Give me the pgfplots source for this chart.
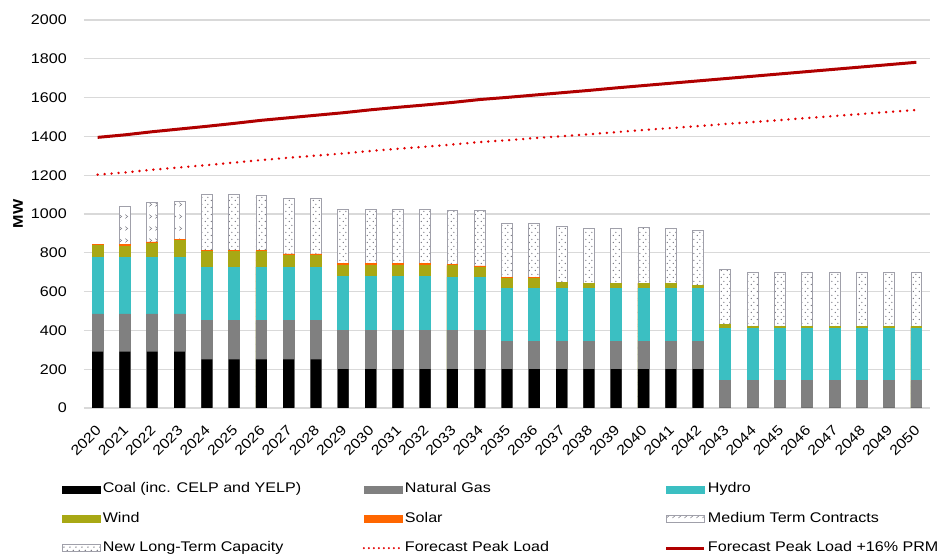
\documentclass[border=0pt]{standalone}
\usepackage{fontspec}
\setmainfont{Liberation Sans}[FakeStretch=1.15]
\usepackage{pgfplots}
\pgfplotsset{compat=1.18}
\usepackage{pgfplotstable}
\usetikzlibrary{patterns}

\definecolor{gasc}{RGB}{128,128,128}
\definecolor{hydroc}{RGB}{59,191,194}
\definecolor{windc}{RGB}{168,168,20}
\definecolor{solarc}{RGB}{255,102,0}
\definecolor{peakc}{RGB}{226,0,0}
\definecolor{prmc}{RGB}{176,0,0}
\definecolor{gridc}{RGB}{217,217,217}
\definecolor{edgec}{RGB}{160,160,170}
\definecolor{dotc}{RGB}{115,115,125}

\pgfdeclarepatternformonly{sparsedots}{\pgfqpoint{0pt}{0pt}}{\pgfqpoint{6pt}{7pt}}{\pgfqpoint{6pt}{7pt}}{%
  \pgfpathcircle{\pgfqpoint{1.5pt}{1.75pt}}{0.8pt}\pgfusepath{fill}%
  \pgfpathcircle{\pgfqpoint{4.5pt}{5.25pt}}{0.8pt}\pgfusepath{fill}}
\pgfdeclarepatternformonly{chev}{\pgfqpoint{0pt}{0pt}}{\pgfqpoint{5.5pt}{12pt}}{\pgfqpoint{5.5pt}{12pt}}{%
  \pgfsetlinewidth{0.5pt}%
  \pgfpathmoveto{\pgfqpoint{1.5pt}{9pt}}\pgfpathlineto{\pgfqpoint{4pt}{7pt}}\pgfpathlineto{\pgfqpoint{1.5pt}{5pt}}\pgfusepath{stroke}}

\newcommand\myfont{\fontsize{14}{16}\selectfont}
\newcommand\barimg[1]{\addlegendimage{legend image code/.code={\draw[#1] (0pt,-3.5pt) rectangle (38pt,3.5pt);}}}
\newcommand\lineimg[1]{\addlegendimage{legend image code/.code={\draw[#1] (0pt,0pt) -- (38pt,0pt);}}}

\pgfplotstableread{
idx coal gas hydro wind solar mtc nltc peak prm
0  290 195 291 62 6 0   0   1203 1395
1  290 195 291 59 6 197 0   1214 1408
2  290 195 291 74 6 204 0   1228 1424
3  290 195 291 86 5 197 0   1240 1438
4  250 200 276 79 6 0   289 1252 1452
5  250 200 276 79 6 0   289 1265 1467
6  250 200 276 79 6 0   284 1278 1483
7  250 200 276 62 6 0   287 1290 1496
8  250 200 276 62 6 0   287 1301 1509
9  200 200 278 59 6 0   282 1312 1522
10 200 200 278 59 6 0   282 1325 1537
11 200 200 278 59 6 0   282 1336 1550
12 200 200 278 59 6 0   282 1347 1562
13 200 200 275 58 6 0   279 1358 1575
14 200 200 275 51 6 0   286 1371 1590
15 200 145 273 50 5 0   280 1380 1601
16 200 145 273 50 5 0   280 1391 1613
17 200 145 271 33 0 0   285 1401 1625
18 200 145 271 28 0 0   283 1411 1637
19 200 145 271 28 0 0   283 1422 1650
20 200 145 271 28 0 0   286 1433 1662
21 200 145 271 28 0 0   280 1443 1674
22 200 145 271 16 0 0   285 1453 1686
23 0   140 272 17 0 0   283 1464 1698
24 0   140 272 9  0 0   279 1474 1710
25 0   140 272 9  0 0   279 1484 1722
26 0   140 272 9  0 0   279 1495 1734
27 0   140 272 9  0 0   279 1505 1746
28 0   140 272 9  0 0   279 1516 1758
29 0   140 272 9  0 0   279 1526 1770
30 0   140 272 9  0 0   279 1536 1782
}\datatable

\pgfplotsset{mybar/.style={ybar, bar width=0.4, bar shift=0pt, forget plot}}

\begin{document}
\begin{tikzpicture}
\path[use as bounding box] (-84pt,-151pt) rectangle (853pt,408pt);
\begin{axis}[
  scale only axis, width=846pt, height=388pt,
  at={(0pt,0pt)}, anchor=south west,
  xmin=-0.5, xmax=30.5, ymin=0, ymax=2000,
  ytick={0,200,...,2000},
  xtick={0,...,30},
  xticklabels={2020,2021,2022,2023,2024,2025,2026,2027,2028,2029,2030,2031,2032,2033,2034,2035,2036,2037,2038,2039,2040,2041,2042,2043,2044,2045,2046,2047,2048,2049,2050},
  axis line style={draw=none},
  tick style={draw=none},
  ymajorgrids, grid style={draw=gridc, line width=1.2pt},
  /pgf/number format/1000 sep={},
  /pgf/number format/assume math mode=true,
  tick label style={font=\myfont},
  yticklabel style={inner sep=0pt, xshift=-17pt},
  xticklabel style={anchor=east, inner sep=0pt, xshift=1pt, yshift=-20pt, rotate=45},
  ylabel={\textbf{MW}},
  every axis y label/.style={at={(axis description cs:0,0.5)}, xshift=-66pt, rotate=90, anchor=center, font=\myfont},
  legend columns=3,
  legend cell align=left,
  legend style={at={(0,0)}, anchor=north west, xshift=-22pt, yshift=-72.5pt, draw=none, fill=none, inner sep=0pt, row sep=12.5pt, column sep=0pt, font=\myfont, nodes={inner sep=2pt, text height=10pt, text depth=3pt}},
]
% new long-term capacity (dots)
\addplot[mybar, fill=white, draw=edgec, line width=0.8pt, postaction={pattern=sparsedots, pattern color=dotc}]
  table[x=idx, y expr=\thisrow{coal}+\thisrow{gas}+\thisrow{hydro}+\thisrow{wind}+\thisrow{solar}+\thisrow{mtc}+\thisrow{nltc}] {\datatable};
% medium term contracts
\addplot[mybar, fill=white, draw=edgec, line width=0.8pt, postaction={pattern=chev, pattern color=dotc}]
  table[x=idx, y expr=\thisrow{coal}+\thisrow{gas}+\thisrow{hydro}+\thisrow{wind}+\thisrow{solar}+\thisrow{mtc}] {\datatable};
% solar
\addplot[mybar, fill=solarc, draw=solarc, line width=0.8pt]
  table[x=idx, y expr=\thisrow{coal}+\thisrow{gas}+\thisrow{hydro}+\thisrow{wind}+\thisrow{solar}] {\datatable};
% wind
\addplot[mybar, fill=windc, draw=windc, line width=0.8pt]
  table[x=idx, y expr=\thisrow{coal}+\thisrow{gas}+\thisrow{hydro}+\thisrow{wind}] {\datatable};
% hydro
\addplot[mybar, fill=hydroc, draw=hydroc, line width=0.8pt]
  table[x=idx, y expr=\thisrow{coal}+\thisrow{gas}+\thisrow{hydro}] {\datatable};
% gas
\addplot[mybar, fill=gasc, draw=gasc, line width=0.8pt]
  table[x=idx, y expr=\thisrow{coal}+\thisrow{gas}] {\datatable};
% coal
\addplot[mybar, fill=black, draw=none]
  table[x=idx, y=coal] {\datatable};
% lines
\addplot[forget plot, peakc, line width=2.7pt, dash pattern=on 0pt off 7pt, line cap=round]
  table[x=idx, y=peak] {\datatable};
\addplot[forget plot, prmc, line width=3pt]
  table[x=idx, y=prm] {\datatable};

\barimg{fill=black,draw=black}
\addlegendentry{\makebox[258pt][l]{Coal (inc. CELP and YELP)}}
\barimg{fill=gasc,draw=gasc}
\addlegendentry{\makebox[258pt][l]{Natural Gas}}
\barimg{fill=hydroc,draw=hydroc}
\addlegendentry{Hydro}
\barimg{fill=windc,draw=windc}
\addlegendentry{\makebox[258pt][l]{Wind}}
\barimg{fill=solarc,draw=solarc}
\addlegendentry{\makebox[258pt][l]{Solar}}
\barimg{fill=white,draw=edgec,line width=0.6pt,postaction={pattern=chev,pattern color=dotc}}
\addlegendentry{Medium Term Contracts}
\barimg{fill=white,draw=edgec,line width=0.6pt,postaction={pattern=sparsedots,pattern color=dotc}}
\addlegendentry{\makebox[258pt][l]{New Long-Term Capacity}}
\lineimg{peakc,line width=2.2pt,dash pattern=on 0pt off 5pt,line cap=round}
\addlegendentry{\makebox[258pt][l]{Forecast Peak Load}}
\lineimg{prmc,line width=3pt}
\addlegendentry{Forecast Peak Load +16\% PRM}
\end{axis}
\end{tikzpicture}
\end{document}
